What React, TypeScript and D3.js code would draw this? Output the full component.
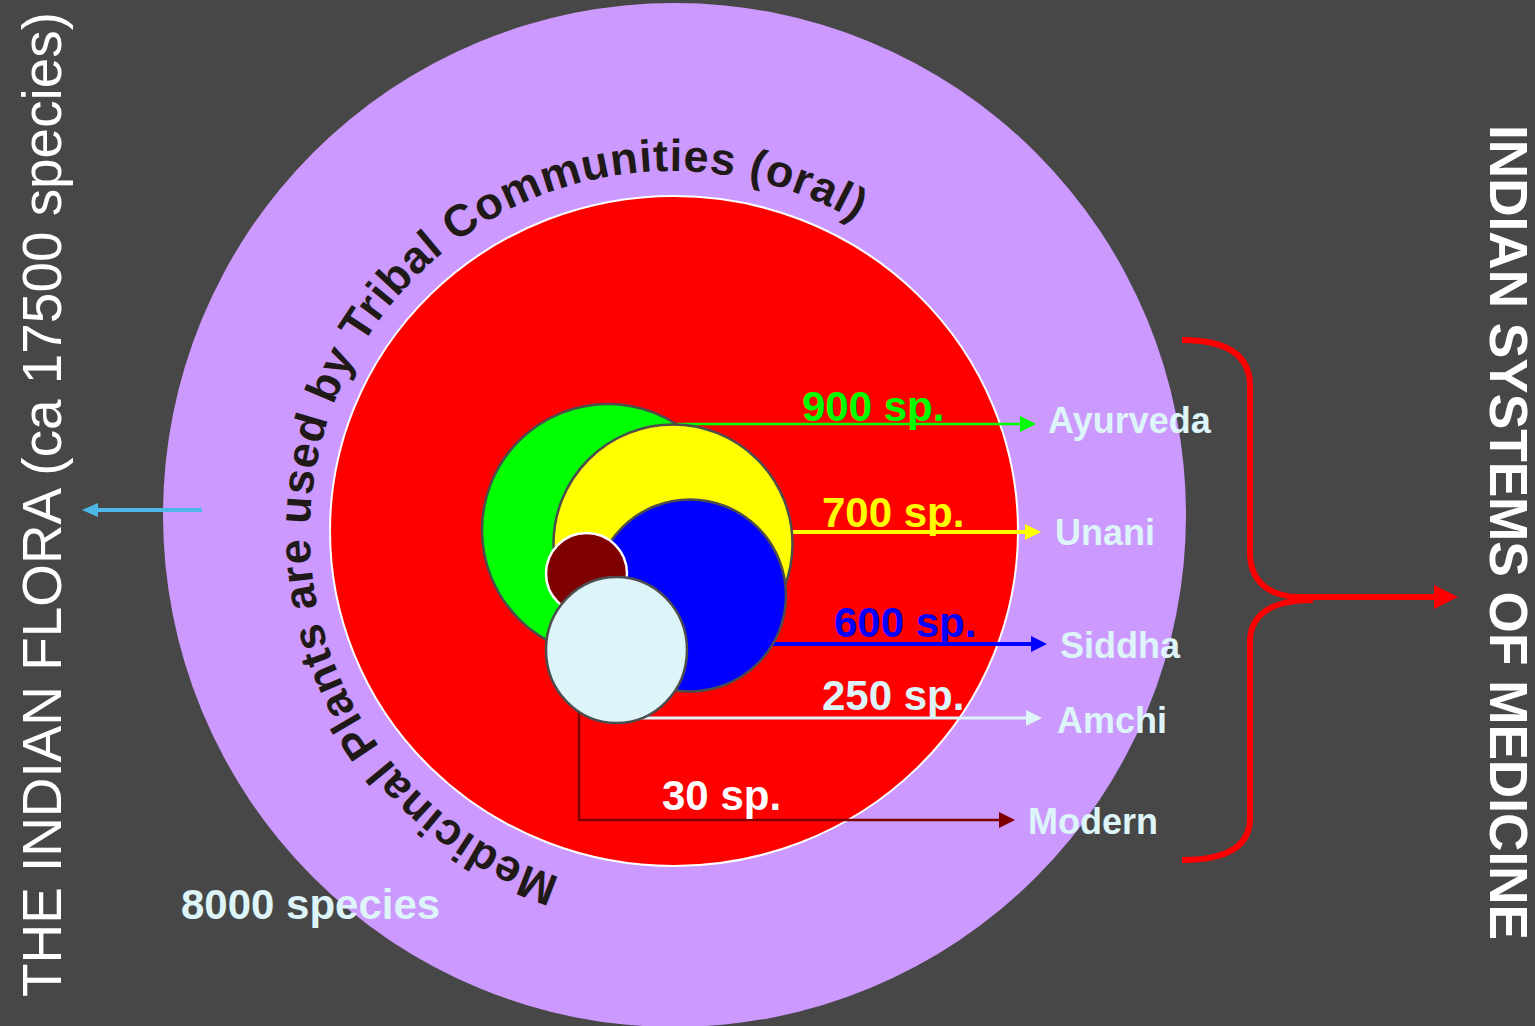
import React from "react";
import * as d3 from "d3";

// ---------- data ----------
const SYSTEMS = ["Ayurveda", "Unani", "Siddha", "Amchi", "Modern"];
const SPECIES = [900, 700, 600, 250, 30];
const SYSTEM_FILLS = ["#00FF00", "#FFFF00", "#0000FF", "#DDF4F8", "#7F0000"];
const COUNT_COLORS = ["#00FF00", "#FFFF00", "#0000FF", "#DDF4F8", "#FFFFFF"];
const TRIBAL_SPECIES = 8000;
const FLORA_SPECIES = 17500;
const CURVED_TEXT = "Medicinal Plants are used by Tribal Communities (oral)";
const LEFT_TITLE = `THE INDIAN FLORA (ca ${FLORA_SPECIES} species)`;
const RIGHT_TITLE = "INDIAN SYSTEMS OF MEDICINE";

// ---------- layout ----------
const W = 1535;
const H = 1026;
const BG = "#474747";
const LABEL_FILL = "#DDF4F8";
const FONT = "'Liberation Sans', Arial, Helvetica, sans-serif";
const OUTER = { cx: 674.5, cy: 515, rx: 511.5, ry: 512 };
const INNER = { cx: 674, cy: 531, rx: 344, ry: 335 };
const BUBBLES = [
  { cx: 608, cy: 530, rx: 126, ry: 126 },
  { cx: 673, cy: 544, rx: 119.5, ry: 119.5 },
  { cx: 690, cy: 595.5, rx: 96, ry: 96 },
  { cx: 616.5, cy: 650, rx: 70.5, ry: 73 },
  { cx: 586.5, cy: 573.5, rx: 40.5, ry: 40.5 },
];
const DRAW_ORDER = [0, 1, 2, 4, 3];
const ARROW_Y = [424, 532, 644, 718, 820];
const ARROW_TIP = [1036, 1041, 1047, 1042, 1015];
const ARROW_W = [2.5, 4, 4, 3, 2.5];
const COUNT_X = [802, 822, 834, 822, 662];
const COUNT_BASE = [421, 527, 637, 710, 810];
const NAME_X = [1048, 1055, 1060, 1057, 1028];
const NAME_BASE = [433, 545, 658, 733, 834];
const MODERN_X = 579;

const TEXT_ARC = { cx: 672, cy: 533, r: 362, a0: 108, a1: 300.5 };

function arrowHead(tip: number, y: number, len = 16, half = 8, dir = 1) {
  const b = tip - dir * len;
  return `${tip},${y} ${b},${y - half} ${b},${y + half}`;
}

export default function App() {
  const rad = (d: number) => (d * Math.PI) / 180;
  const p = d3.path();
  const a0 = rad(TEXT_ARC.a0);
  p.moveTo(TEXT_ARC.cx + TEXT_ARC.r * Math.cos(a0), TEXT_ARC.cy + TEXT_ARC.r * Math.sin(a0));
  p.arc(TEXT_ARC.cx, TEXT_ARC.cy, TEXT_ARC.r, a0, rad(TEXT_ARC.a0 + 350), false);
  const arcLen = TEXT_ARC.r * rad(TEXT_ARC.a1 - TEXT_ARC.a0);

  // brace
  const upper = d3.path();
  upper.moveTo(1182, 340);
  upper.bezierCurveTo(1228, 340, 1250, 356, 1250, 386);
  upper.lineTo(1250, 553);
  upper.bezierCurveTo(1250, 580, 1268, 597, 1300, 597);
  const lower = d3.path();
  lower.moveTo(1313, 600);
  lower.bezierCurveTo(1272, 600, 1250, 614, 1250, 642);
  lower.lineTo(1250, 818);
  lower.bezierCurveTo(1250, 846, 1228, 860, 1182, 860);

  return (
    <svg
      width={W}
      height={H}
      style={{ position: "absolute", left: 0, top: 0, display: "block" }}
      fontFamily={FONT}
    >
      <defs>
        <path id="tribalArc" d={p.toString()} />
      </defs>
      <rect x={0} y={0} width={W} height={H} fill={BG} />
      <ellipse cx={OUTER.cx} cy={OUTER.cy} rx={OUTER.rx} ry={OUTER.ry} fill="#CC99FF" />
      <ellipse cx={INNER.cx} cy={INNER.cy} rx={INNER.rx} ry={INNER.ry} fill="#FF0000" stroke="#FFFFFF" strokeWidth={2} />

      {/* arrows behind bubbles */}
      {SYSTEMS.map((s, i) => {
        const b = BUBBLES[i];
        const color = SYSTEM_FILLS[i];
        const y = ARROW_Y[i];
        const tip = ARROW_TIP[i];
        const d =
          s === "Modern"
            ? `M${MODERN_X},${b.cy}V${y}H${tip - 14}`
            : `M${b.cx},${y}H${tip - 14}`;
        return (
          <g key={"arr" + s}>
            <path d={d} fill="none" stroke={color} strokeWidth={ARROW_W[i]} />
            <polygon points={arrowHead(tip, y)} fill={color} />
          </g>
        );
      })}

      {DRAW_ORDER.map((i) => {
        const b = BUBBLES[i];
        return (
          <ellipse
            key={"b" + i}
            cx={b.cx}
            cy={b.cy}
            rx={b.rx}
            ry={b.ry}
            fill={SYSTEM_FILLS[i]}
            stroke={SYSTEMS[i] === "Modern" ? "#FFFFFF" : "#4D4D4D"}
            strokeWidth={2.5}
          />
        );
      })}

      {SYSTEMS.map((s, i) => (
        <text
          key={"c" + s}
          x={COUNT_X[i]}
          y={COUNT_BASE[i]}
          fill={COUNT_COLORS[i]}
          fontWeight="bold"
          fontSize={42}
        >
          {`${SPECIES[i]} sp.`}
        </text>
      ))}
      {SYSTEMS.map((s, i) => (
        <text
          key={"n" + s}
          x={NAME_X[i]}
          y={NAME_BASE[i]}
          fill={LABEL_FILL}
          fontWeight="bold"
          fontSize={36}
        >
          {s}
        </text>
      ))}

      <text fill="#1F1A17" fontWeight="bold" fontSize={45}>
        <textPath href="#tribalArc" textLength={arcLen} lengthAdjust="spacing">
          {CURVED_TEXT}
        </textPath>
      </text>

      <text x={181} y={919} fill={LABEL_FILL} fontWeight="bold" fontSize={42}>
        {`${TRIBAL_SPECIES} species`}
      </text>

      {/* left arrow */}
      <line x1={202} y1={510} x2={96} y2={510} stroke="#4DB8E8" strokeWidth={4} />
      <polygon points={arrowHead(82, 510, 16, 7, -1)} fill="#4DB8E8" />

      {/* brace */}
      <path d={upper.toString()} fill="none" stroke="#FF0000" strokeWidth={6} />
      <path d={lower.toString()} fill="none" stroke="#FF0000" strokeWidth={6} />
      <line x1={1290} y1={597} x2={1436} y2={597} stroke="#FF0000" strokeWidth={6} />
      <polygon points={arrowHead(1458, 597, 24, 12)} fill="#FF0000" />

      <text
        transform="translate(61,997) rotate(-90)"
        fill="#FFFFFF"
        fontSize={56}
        textLength={985}
        lengthAdjust="spacingAndGlyphs"
      >
        {LEFT_TITLE}
      </text>
      <text
        transform="translate(1490,125) rotate(90)"
        fill="#FFFFFF"
        fontWeight="bold"
        fontSize={53}
        textLength={815}
        lengthAdjust="spacingAndGlyphs"
      >
        {RIGHT_TITLE}
      </text>
    </svg>
  );
}
